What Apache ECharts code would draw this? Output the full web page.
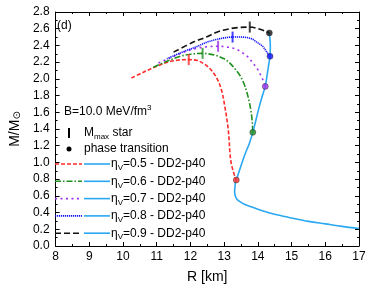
<!DOCTYPE html>
<html>
<head>
<meta charset="utf-8">
<script src="https://cdn.jsdelivr.net/npm/echarts@6/dist/echarts.min.js"></script>
<style>
html,body{margin:0;padding:0;background:#fff;}
#c{width:374px;height:289px;}
</style>
</head>
<body>
<div id="c"></div>
<script>
// ---------- data ----------
const xTicks = [8, 9, 10, 11, 12, 13, 14, 15, 16, 17];
const yTicks = [0.0, 0.2, 0.4, 0.6, 0.8, 1.0, 1.2, 1.4, 1.6, 1.8, 2.0, 2.2, 2.4, 2.6, 2.8];

const etaLabels = ["0.5", "0.6", "0.7", "0.8", "0.9"];

// hadronic DD2-p40 branch (R [km], M/Msun)
const hadR = [17.0, 16.5, 16.0, 15.5, 15.0, 14.6, 14.28, 14.0, 13.8, 13.6, 13.47, 13.38, 13.33, 13.31, 13.32, 13.33, 13.36, 13.45, 13.55, 13.65, 13.75, 13.85, 13.95, 14.05, 14.15, 14.22, 14.28, 14.33, 14.36, 14.37, 14.36, 14.34];
const hadM = [0.21, 0.235, 0.265, 0.295, 0.335, 0.37, 0.405, 0.44, 0.47, 0.50, 0.53, 0.56, 0.60, 0.65, 0.70, 0.75, 0.79, 0.90, 1.02, 1.13, 1.23, 1.36, 1.52, 1.68, 1.82, 1.91, 2.06, 2.19, 2.27, 2.38, 2.47, 2.55];

// hybrid branches
const r05 = [10.25, 10.66, 11.0, 11.32, 11.65, 11.95, 12.2, 12.4, 12.56, 12.72, 12.85, 12.95, 13.02, 13.08, 13.12, 13.15, 13.17, 13.21, 13.28, 13.36];
const m05 = [2.01, 2.09, 2.15, 2.20, 2.225, 2.23, 2.22, 2.18, 2.13, 2.05, 1.95, 1.82, 1.67, 1.52, 1.40, 1.26, 1.12, 0.99, 0.88, 0.79];

const r06 = [10.9, 11.3, 11.7, 12.0, 12.36, 12.76, 13.0, 13.14, 13.3, 13.47, 13.58, 13.66, 13.73, 13.79, 13.83, 13.85];
const m06 = [2.14, 2.21, 2.27, 2.295, 2.305, 2.28, 2.24, 2.20, 2.13, 2.04, 1.95, 1.86, 1.75, 1.63, 1.50, 1.36];

const r07 = [11.05, 11.4, 11.8, 12.18, 12.5, 12.82, 13.1, 13.33, 13.55, 13.71, 13.85, 14.0, 14.1, 14.18, 14.22];
const m07 = [2.19, 2.25, 2.32, 2.365, 2.385, 2.39, 2.38, 2.36, 2.31, 2.26, 2.19, 2.11, 2.03, 1.96, 1.91];

const r08 = [11.3, 11.7, 12.18, 12.5, 12.76, 13.0, 13.25, 13.5, 13.81, 14.0, 14.14, 14.25, 14.32, 14.36];
const m08 = [2.24, 2.31, 2.385, 2.44, 2.47, 2.49, 2.50, 2.50, 2.48, 2.43, 2.39, 2.33, 2.29, 2.27];

const r09 = [11.5, 12.09, 12.47, 12.76, 13.0, 13.33, 13.76, 14.09, 14.25, 14.34];
const m09 = [2.32, 2.44, 2.50, 2.555, 2.585, 2.61, 2.62, 2.59, 2.565, 2.55];

// M_max star positions
const maxR = [11.95, 12.36, 12.82, 13.25, 13.76];
const maxM = [2.23, 2.305, 2.39, 2.50, 2.62];

// phase transition positions
const ptR = [13.36, 13.85, 14.22, 14.36, 14.34];
const ptM = [0.79, 1.36, 1.91, 2.27, 2.55];

// ---------- styles ----------
const colors = ["#ff2a2a", "#1f8f1f", "#a030f0", "#1010ff", "#111111"];
const dashes = [[4, 2], [6, 2, 1.5, 2], [2, 3.5], [1.2, 0.8], [6, 3]];
const hadColor = "#2aa8f2";
const FONT = "Liberation Sans, Arial, sans-serif";

const zip = (a, b) => a.map((v, i) => [v, b[i]]);
const branches = [zip(r05, m05), zip(r06, m06), zip(r07, m07), zip(r08, m08), zip(r09, m09)];

const series = [];
branches.forEach((d, i) => {
  series.push({
    type: "line", data: d, showSymbol: false, smooth: 0.35, z: 3,
    lineStyle: { color: colors[i], width: 1.6, type: dashes[i] },
    silent: true, animation: false
  });
});
series.push({
  type: "line", data: zip(hadR, hadM), showSymbol: false, smooth: 0.35, z: 4,
  lineStyle: { color: hadColor, width: 1.6 }, silent: true, animation: false
});
series.push({
  type: "scatter", z: 6, symbol: "rect", symbolSize: [2, 11], animation: false,
  data: maxR.map((r, i) => ({ value: [r, maxM[i]], itemStyle: { color: colors[i] } }))
});
series.push({
  type: "scatter", z: 7, symbol: "circle", symbolSize: 6, animation: false,
  data: ptR.map((r, i) => ({ value: [r, ptM[i]], itemStyle: { color: colors[i], borderColor: "#333", borderWidth: 0.6 } }))
});

const grid = { left: 44, right: 15, top: 12, bottom: 34 };
const axCommon = {
  axisLine: { show: true, onZero: false, lineStyle: { color: "#000", width: 1 } },
  axisTick: { show: true, inside: true, length: 4, lineStyle: { color: "#000" } },
  minorTick: { show: true, splitNumber: 2, length: 2, lineStyle: { color: "#000" } },
  splitLine: { show: false }, minorSplitLine: { show: false }
};

const xAxes = [
  Object.assign({
    type: "value", min: xTicks[0], max: xTicks[xTicks.length - 1], interval: 1, position: "bottom",
    axisLabel: { fontSize: 12, color: "#000", margin: 5, fontFamily: FONT },
    name: "R [km]", nameLocation: "middle", nameGap: 24,
    nameTextStyle: { fontSize: 14, color: "#000", fontFamily: FONT }
  }, axCommon),
  Object.assign({
    type: "value", min: xTicks[0], max: xTicks[xTicks.length - 1], interval: 1, position: "top",
    axisLabel: { show: false }
  }, axCommon)
];
const yAxes = [
  Object.assign({
    type: "value", min: yTicks[0], max: yTicks[yTicks.length - 1], interval: 0.2, position: "left",
    axisLabel: { fontSize: 12, color: "#000", margin: 6, fontFamily: FONT, formatter: v => v.toFixed(1) },
    name: "M/M{s|⊙}", nameLocation: "middle", nameGap: 33, nameRotate: 90,
    nameTextStyle: { fontSize: 14, color: "#000", fontFamily: FONT,
      rich: { s: { fontSize: 10, verticalAlign: "bottom", lineHeight: 10, fontFamily: "DejaVu Sans" } } }
  }, axCommon),
  Object.assign({
    type: "value", min: yTicks[0], max: yTicks[yTicks.length - 1], interval: 0.2, position: "right",
    axisLabel: { show: false }
  }, axCommon)
];

// ---------- legend (graphic) ----------
const richBase = {
  b: { fontSize: 12, fontFamily: FONT, fill: "#000", lineHeight: 16, verticalAlign: "middle" },
  sub: { fontSize: 8, fontFamily: FONT, fill: "#000", lineHeight: 8, verticalAlign: "bottom" },
  sup: { fontSize: 8, fontFamily: FONT, fill: "#000", lineHeight: 8, verticalAlign: "top" }
};
const graphics = [];
function txt(x, y, t) {
  graphics.push({ type: "text", x: x, y: y, z: 100,
    style: { text: t, fill: "#000", font: "12px " + FONT, verticalAlign: "middle", align: "left", rich: richBase } });
}
txt(57, 26, "{b|(d)}");
txt(64, 112, "{b|B=10.0 MeV/fm}{sup|3}");
graphics.push({ type: "rect", z: 100, shape: { x: 68, y: 128, width: 2, height: 10 }, style: { fill: "#000" } });
txt(84, 133, "{b|M}{sub|max}{b| star}");
graphics.push({ type: "circle", z: 100, shape: { cx: 69, cy: 149, r: 2.5 }, style: { fill: "#000" } });
txt(84, 149, "{b|phase transition}");
const rowY = [164, 181.3, 198.6, 215.9, 233.2];
etaLabels.forEach((e, i) => {
  const y = rowY[i];
  graphics.push({ type: "line", z: 100, shape: { x1: 55, y1: y, x2: 82, y2: y },
    style: { stroke: colors[i], lineWidth: 1.6, lineDash: dashes[i] } });
  graphics.push({ type: "line", z: 100, shape: { x1: 84, y1: y, x2: 110, y2: y },
    style: { stroke: hadColor, lineWidth: 1.6 } });
  txt(111, y, "{b|η}{sub|V}{b|=" + e + " - DD2-p40}");
});

const chart = echarts.init(document.getElementById("c"), null, { renderer: "canvas" });
chart.setOption({
  animation: false,
  backgroundColor: "#fff",
  textStyle: { fontFamily: FONT },
  grid: grid,
  xAxis: xAxes,
  yAxis: yAxes,
  series: series,
  graphic: graphics
});
</script>
</body>
</html>
